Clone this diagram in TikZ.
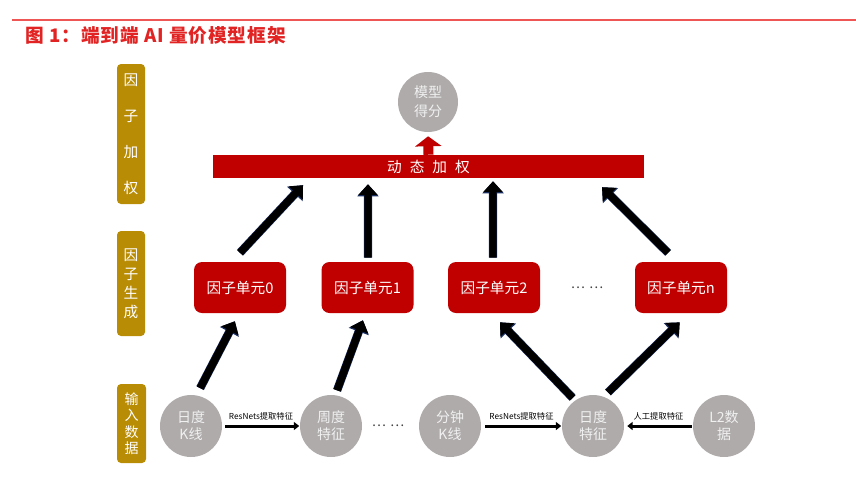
\documentclass[tikz,border=0pt]{standalone}
\usepackage{fontspec}
\setmainfont{Noto Sans CJK SC}
\usetikzlibrary{arrows.meta,calc}
\definecolor{gold}{RGB}{185,140,5}
\definecolor{dred}{RGB}{192,0,0}
\definecolor{cgray}{RGB}{175,171,171}
\definecolor{tred}{RGB}{225,35,35}
\definecolor{lred}{RGB}{238,85,85}
\definecolor{navyo}{RGB}{25,45,95}
\definecolor{ctext}{RGB}{240,240,240}
\begin{document}
\begin{tikzpicture}[x=0.75pt,y=-0.75pt,
  sidebox/.style={fill=gold, rounded corners=3pt, text=white, align=center, inner sep=0pt, minimum width=21pt},
  unitbox/.style={fill=dred, rounded corners=6pt, text=white, minimum width=69pt, minimum height=38.25pt, inner sep=0pt, font=\fontsize{11}{13}\selectfont},
  datacirc/.style={circle, fill=cgray, text=ctext, minimum size=46.5pt, inner sep=0pt, align=center, font=\fontsize{10.5}{12.75}\selectfont},
  bigarrow/.style={draw=black, line width=5.5pt, -{Triangle[width=14pt,length=8pt]},
     preaction={draw=navyo, line width=6.3pt, -{Triangle[width=15.5pt,length=9pt]}}},
  redarrow/.style={draw=dred, line width=7.5pt, -{Triangle[width=19.5pt,length=7.5pt]}},
  smallarrow/.style={draw=black, line width=2.25pt, -{Triangle[width=6pt,length=4pt]}},
  arrlabel/.style={font=\fontsize{6.2}{7}\selectfont, text=black, inner sep=1pt},
  dotstyle/.style={font=\fontsize{10}{11}\selectfont, text=black!75, inner sep=0pt}
]
\useasboundingbox (0,0) rectangle (856,479);
% header
\coordinate (hl) at (12,19.5);
\coordinate (hr) at (856,19.5);
\draw[lred, line width=1.5pt] (hl) -- (hr);
\node[anchor=west, text=tred, font=\fontsize{14}{16}\bfseries\selectfont\addfontfeatures{LetterSpace=5}, inner sep=0pt] (title) at (25,35) {图 1：端到端 AI 量价模型框架};

% side labels
\node[sidebox, minimum height=105pt, font=\fontsize{11}{27}\selectfont] (L1) at (131,134) {因\\子\\加\\权};
\node[sidebox, minimum height=78.75pt, font=\fontsize{11}{14.25}\selectfont] (L2) at (131,283.5) {因\\子\\生\\成};
\node[sidebox, minimum width=21.75pt, minimum height=59.25pt, font=\fontsize{10.5}{12.25}\selectfont] (L3) at (131.5,423.5) {输\\入\\数\\据};

% top
\node[datacirc, minimum size=45pt, font=\fontsize{10.5}{14}\selectfont] (mod) at (428,102) {模型\\得分};
\node[fill=dred, minimum width=323.25pt, minimum height=17.25pt, inner sep=0pt, text=white, font=\fontsize{11}{13}\selectfont] (bar) at (428.5,166.5) {动\hspace{6pt}态\hspace{6pt}加\hspace{6pt}权};

% factor units
\node[unitbox] (u0) at (240,287.5) {因子单元0};
\node[unitbox] (u1) at (367.5,287.5) {因子单元1};
\node[unitbox] (u2) at (494,287.5) {因子单元2};
\node[unitbox] (un) at (681,287.5) {因子单元n};
\node[dotstyle] (dots1) at (587,288) {…\hspace{3pt}…};

% data circles
\node[datacirc] (d0) at (191,426) {日度\\K线};
\node[datacirc] (d1) at (331,426) {周度\\特征};
\node[datacirc] (mk) at (450,426) {分钟\\K线};
\node[datacirc] (dd) at (593,426) {日度\\特征};
\node[datacirc] (l2) at (724,426) {L2数\\据};
\node[dotstyle] (dots2) at (388,426) {…\hspace{3pt}…};

% red arrow
\draw[redarrow, shorten >=3pt] (bar.north) -- (mod.south);

% arrows to bar
\draw[bigarrow, shorten <=9.2pt, shorten >=7.1pt] ([xshift=-6.3pt]u0.north) -- ([xshift=-89.25pt]bar.south);
\draw[bigarrow, shorten <=3pt, shorten >=4.5pt] ([xshift=0.4pt]u1.north) -- ([xshift=-45.4pt]bar.south);
\draw[bigarrow, shorten <=3pt, shorten >=2.25pt] ([xshift=-0.75pt]u2.north) -- ([xshift=48.4pt]bar.south);
\draw[bigarrow, shorten <=9.5pt, shorten >=9.5pt] ([xshift=-3pt]un.north) -- ([xshift=123.4pt]bar.south);

% arrows from data to units
\draw[bigarrow, shorten <=6pt, shorten >=6.75pt] (d0.80) -- ([xshift=-0.75pt]u0.south);
\draw[bigarrow, shorten <=3.75pt, shorten >=5.6pt] (d1.82) -- ([xshift=-1.5pt]u1.south);
\draw[bigarrow, shorten <=2.6pt, shorten >=9.4pt] (dd.125) -- ([xshift=-2pt]u2.south);
\draw[bigarrow, shorten <=4.5pt, shorten >=9.75pt] (dd.70) -- ([xshift=6pt]un.south);

% horizontal arrows
\draw[smallarrow, shorten <=2.25pt, shorten >=0.4pt] (d0.east) -- node[arrlabel, above=1.9pt] (lab1) {ResNets提取特征} (d1.west);
\draw[smallarrow, shorten <=3pt, shorten >=0.4pt] (mk.east) -- node[arrlabel, above=1.9pt] (lab2) {ResNets提取特征} (dd.west);
\draw[smallarrow, shorten <=0.75pt, shorten >=2.25pt] (l2.west) -- node[arrlabel, above=1.9pt] (lab3) {人工提取特征} (dd.east);
\end{tikzpicture}
\end{document}
